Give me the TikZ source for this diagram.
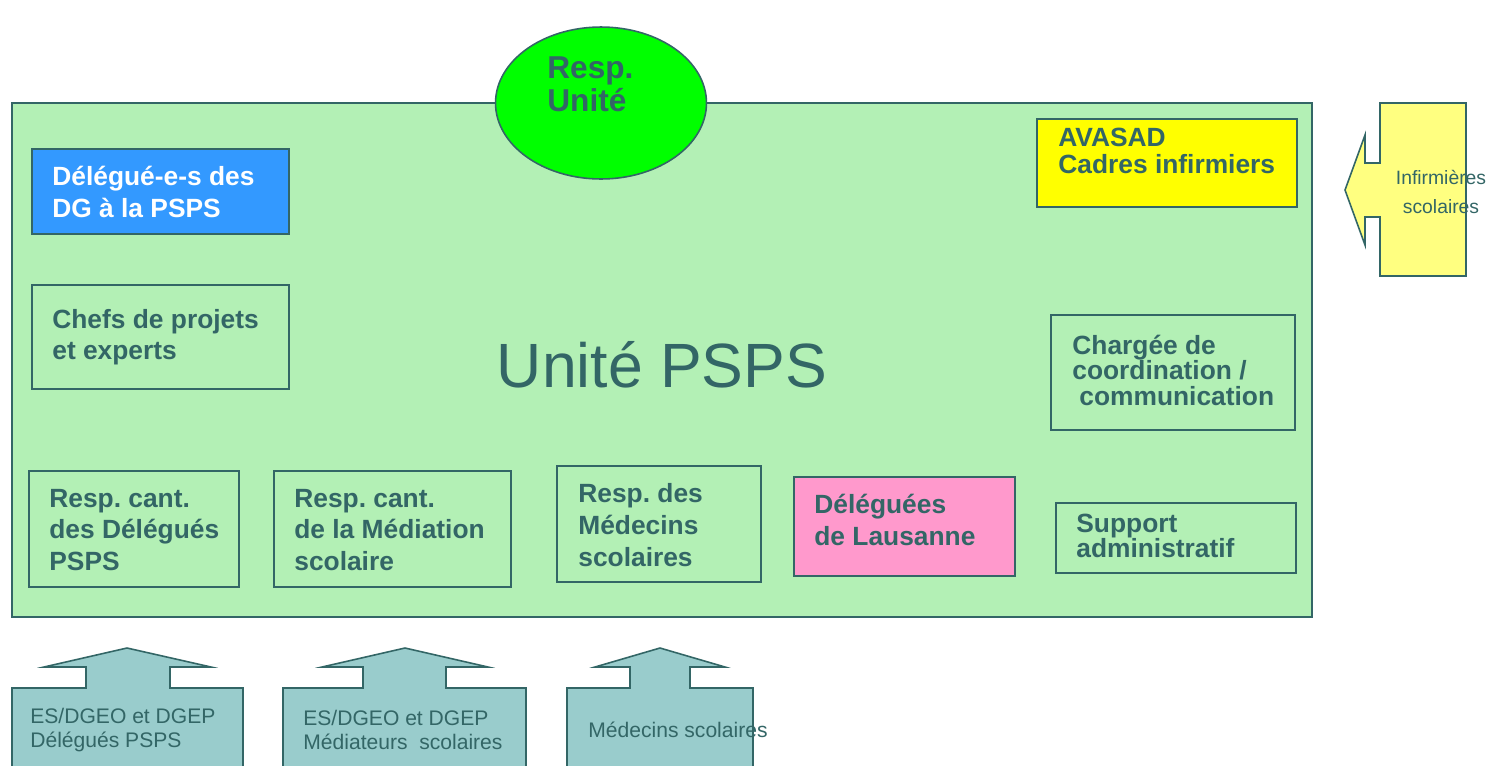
\documentclass[tikz,border=0pt]{standalone}
\usepackage{fontspec}
\setmainfont{Liberation Sans}
\usetikzlibrary{shapes.geometric}
\frenchspacing
\definecolor{pspsline}{RGB}{51,102,102}
\definecolor{pspstext}{RGB}{51,102,102}
\definecolor{pspsgreen}{RGB}{179,240,181}
\definecolor{pspsblue}{RGB}{51,153,255}
\definecolor{pspsyellow}{RGB}{255,255,0}
\definecolor{pspspale}{RGB}{255,255,128}
\definecolor{pspspink}{RGB}{255,153,204}
\definecolor{pspsteal}{RGB}{153,204,204}
\definecolor{pspslime}{RGB}{0,255,0}
\tikzset{
  box/.style={draw=pspsline, line width=0.9pt},
  boxtext/.style={anchor=west, align=left, inner sep=0pt, text=pspstext,
    font=\bfseries\fontsize{15}{18}\selectfont},
  smalltext/.style={anchor=west, align=left, inner sep=0pt, text=pspstext,
    font=\fontsize{12}{13.6}\selectfont}
}
\begin{document}
\begin{tikzpicture}[x=0.02cm, y=-0.02cm]
  \clip (0,0) rectangle (1493,765);
  \fill[white] (0,0) rectangle (1493,765);

  % Drawing unit frame
  \draw[box, fill=pspsgreen] (12,103) rectangle (1312,617);%

  % Drawing head of unit
  \node[ellipse, box, fill=pspslime, minimum width=4.22cm, minimum height=3.04cm,
        inner sep=0pt] (resp) at (601,103) {};%
  \node[boxtext, font=\bfseries\fontsize{18}{18.7}\selectfont] (resptext) at (547,84)
        {Resp.\\Unité};%

  % Drawing title
  \node[inner sep=0pt, text=pspstext, font=\fontsize{35.6}{40}\selectfont] (title)
        at (662,365) {Unité PSPS};%

  % Drawing left column
  \draw[box, fill=pspsblue] (32,149) rectangle (289,234);%
  \node[boxtext, text=white] (delegues) at (52,192) {Délégué-e-s des\\DG à la PSPS};%
  \draw[box] (32,285) rectangle (289,389);%
  \node[boxtext] (chefs) at (52,337) {Chefs de projets\\et experts};%

  % Drawing right column
  \draw[box, fill=pspsyellow] (1037,119) rectangle (1297,207);%
  \node[boxtext, font=\bfseries\fontsize{15}{15.3}\selectfont] (avasad) at (1058,151)
        {AVASAD\\Cadres infirmiers};%
  \draw[box] (1051,315) rectangle (1295,430);%
  \node[boxtext, font=\bfseries\fontsize{15}{14.5}\selectfont] (chargee) at (1072,370)
        {Chargée de\\coordination /\\\hspace*{4pt}communication};%
  \draw[box] (1056,503) rectangle (1296,573);%
  \node[boxtext, font=\bfseries\fontsize{15}{14.2}\selectfont] (support) at (1076,536)
        {Support\\administratif};%

  % Drawing bottom row
  \draw[box] (29,471) rectangle (239,587);%
  \node[boxtext] (respdel) at (49,530) {Resp. cant.\\des Délégués\\PSPS};%
  \draw[box] (274,471) rectangle (511,587);%
  \node[boxtext] (respmed) at (294,530) {Resp. cant.\\de la Médiation\\scolaire};%
  \draw[box] (557,466) rectangle (761,582);%
  \node[boxtext] (respdoc) at (578,525) {Resp. des\\Médecins\\scolaires};%
  \draw[box, fill=pspspink] (794,477) rectangle (1015,576);%
  \node[boxtext] (lausanne) at (814,520) {Déléguées\\de Lausanne};%

  % Drawing arrow of school nurses
  \draw[box, fill=pspspale] (1380,103) -- (1466,103) -- (1466,276) -- (1380,276)
        -- (1380,217) -- (1365,217) -- (1365,245) -- (1345,190) -- (1365,135)
        -- (1365,163) -- (1380,163) -- cycle;%
  \node[inner sep=0pt, align=center, text=pspstext, font=\fontsize{11}{17}\selectfont]
        (infirmieres) at (1441,192) {Infirmières\\scolaires};%

  % Drawing arrows from below
  \draw[box, fill=pspsteal] (12,780) -- (12,688) -- (86,688) -- (86,667) -- (44,667)
        -- (127,648) -- (211,667) -- (170,667) -- (170,688) -- (243,688) -- (243,780);%
  \node[smalltext] (esdel) at (30,730) {ES/DGEO et DGEP\\Délégués PSPS};%
  \draw[box, fill=pspsteal] (283,780) -- (283,688) -- (363,688) -- (363,667) -- (322,667)
        -- (405,648) -- (488,667) -- (446,667) -- (446,688) -- (526,688) -- (526,780);%
  \node[smalltext] (esmed) at (303,730) {ES/DGEO et DGEP\\Médiateurs\ \ scolaires};%
  \draw[box, fill=pspsteal] (567,780) -- (567,688) -- (630,688) -- (630,667) -- (595,667)
        -- (660,648) -- (725,667) -- (690,667) -- (690,688) -- (753,688) -- (753,780);%
  \node[smalltext] (esdoc) at (588,730) {Médecins scolaires};%
\end{tikzpicture}
\end{document}
